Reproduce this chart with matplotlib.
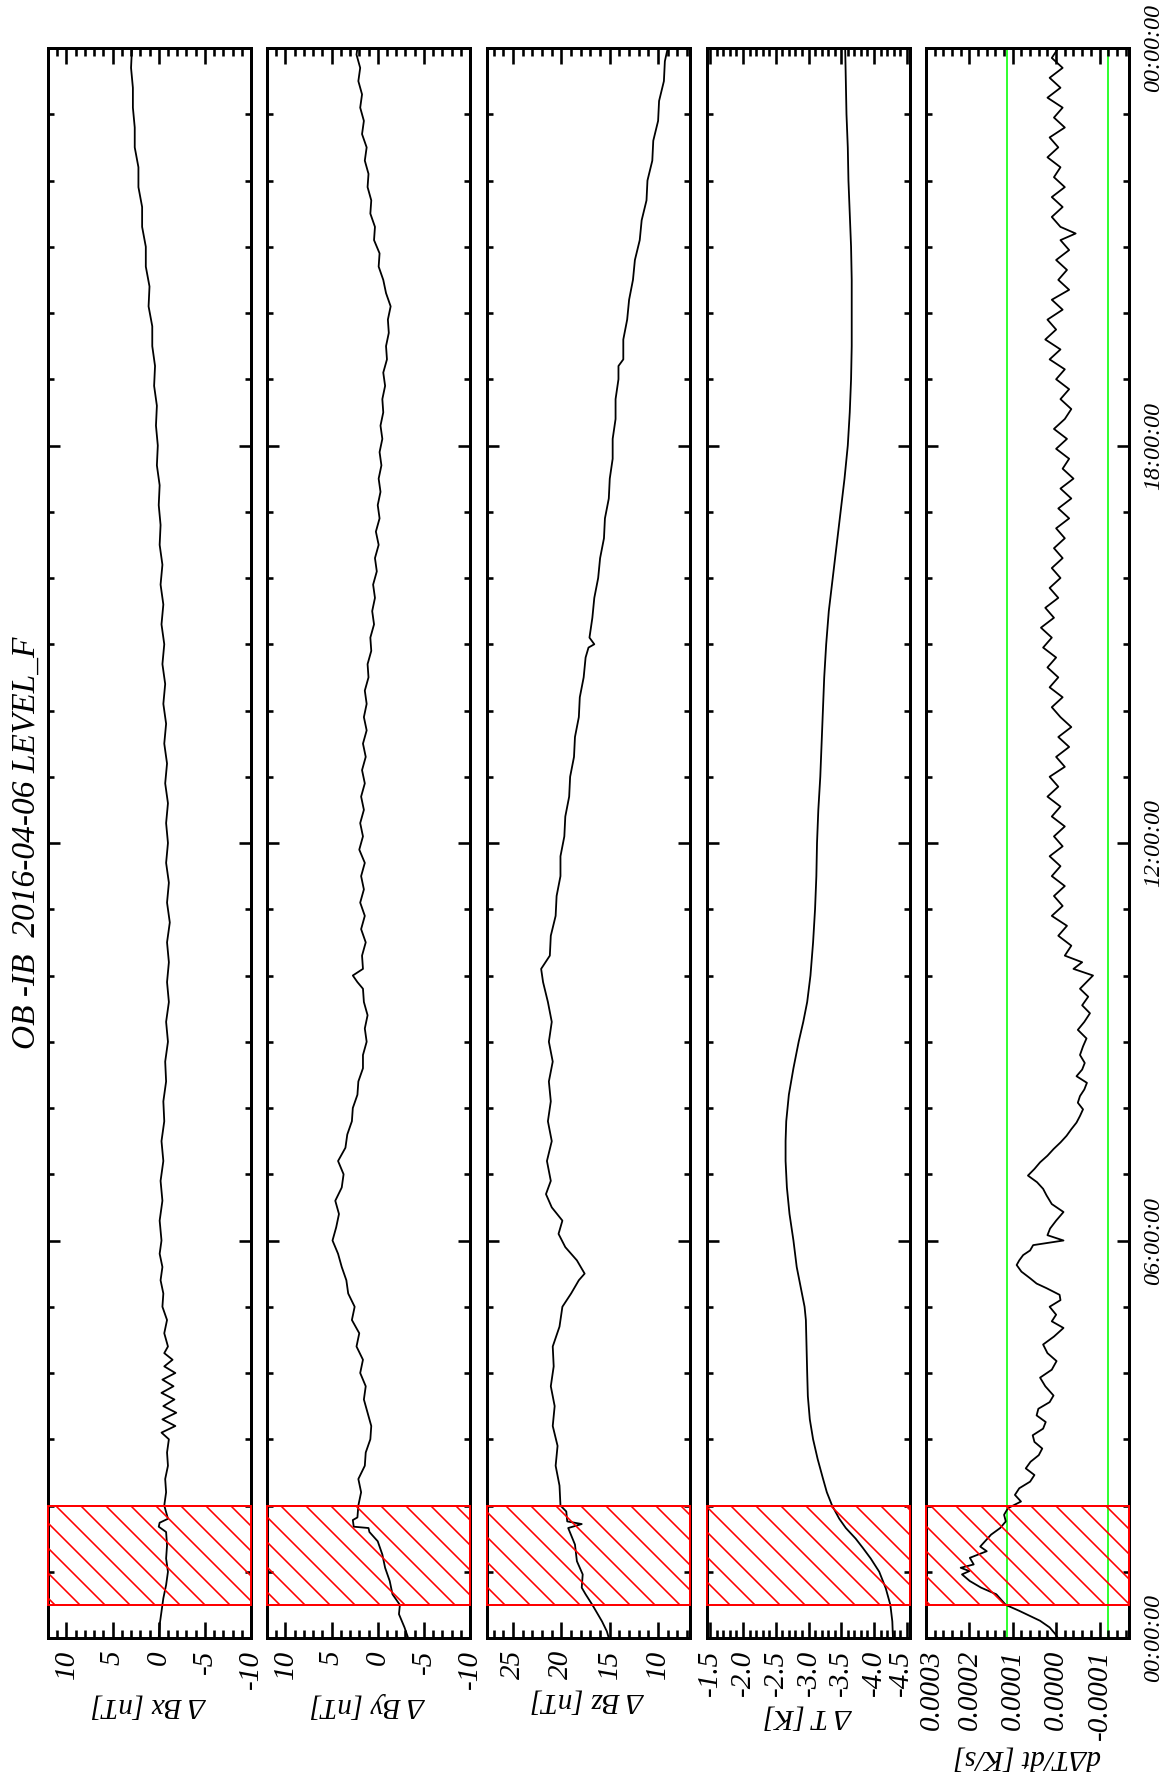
import matplotlib
matplotlib.use("Agg")
import matplotlib.pyplot as plt
import matplotlib.transforms as mtransforms
from matplotlib.ticker import MultipleLocator, FixedLocator, FixedFormatter


# hours since 00:00 UT and the readings for each panel
BX_T = [0.0, 0.2, 0.4, 0.6, 0.8, 1.0, 1.2, 1.4, 1.6, 1.68, 1.74, 1.8, 2.0, 2.2, 2.4,
        2.6, 2.8, 3.0, 3.1, 3.2, 3.3, 3.4, 3.5, 3.6, 3.7, 3.8, 3.9, 4.0, 4.1, 4.2,
        4.3, 4.4, 4.6, 4.8, 5.0, 5.2, 5.4, 5.6, 5.8, 6.0, 6.3, 6.6, 6.9, 7.2, 7.5,
        7.8, 8.1, 8.4, 8.7, 9.0, 9.3, 9.6, 9.9, 10.2, 10.5, 10.8, 11.1, 11.4, 11.7,
        12.0, 12.3, 12.6, 12.9, 13.2, 13.5, 13.8, 14.1, 14.4, 14.7, 15.0, 15.3, 15.6,
        15.9, 16.2, 16.5, 16.8, 17.1, 17.4, 17.7, 18.0, 18.3, 18.6, 18.9, 19.2, 19.5,
        19.8, 20.1, 20.4, 20.7, 21.0, 21.3, 21.6, 21.9, 22.2, 22.5, 22.8, 23.1, 23.4,
        23.7, 24.0]
BX = [0.0, -0.1, -0.3, -0.5, -0.8, -1.0, -0.8, -0.9, -0.8, 0.0, -0.1, -1.0, -0.6,
      -0.8, -0.7, -1.0, -0.9, -1.1, -0.3, -1.8, -0.4, -1.9, -0.5, -1.7, -0.3, -1.6,
      -0.4, -1.8, -0.6, -1.5, -0.6, -1.0, -0.6, -0.9, -0.4, -0.5, -0.2, -0.4, -0.1,
      -0.3, -0.1, -0.4, -0.2, -0.5, -0.3, -0.6, -0.5, -0.8, -0.7, -1.0, -0.8, -1.1,
      -0.9, -1.1, -0.9, -1.2, -0.9, -1.1, -0.8, -1.0, -0.8, -1.0, -0.7, -0.9, -0.6,
      -0.8, -0.5, -0.7, -0.4, -0.6, -0.3, -0.5, -0.2, -0.4, -0.1, -0.2, 0.0, -0.1,
      0.2, 0.1, 0.3, 0.2, 0.5, 0.4, 0.7, 0.7, 1.1, 1.0, 1.4, 1.4, 1.8, 1.8, 2.2, 2.2,
      2.6, 2.6, 2.8, 2.8, 3.0, 2.9]

BY_T = [0.0, 0.16, 0.36, 0.5, 0.66, 0.86, 1.06, 1.26, 1.46, 1.6, 1.66, 1.68, 1.78,
        1.82, 2.0, 2.2, 2.4, 2.6, 2.8, 3.0, 3.2, 3.4, 3.6, 3.8, 4.0, 4.2, 4.4, 4.6,
        4.8, 5.0, 5.2, 5.4, 5.6, 5.8, 6.0, 6.2, 6.4, 6.6, 6.8, 7.0, 7.2, 7.4, 7.6,
        7.8, 8.0, 8.2, 8.4, 8.6, 8.8, 9.0, 9.2, 9.4, 9.6, 9.8, 9.9, 10.0, 10.1, 10.3,
        10.5, 10.7, 10.9, 11.1, 11.3, 11.5, 11.7, 11.9, 12.1, 12.3, 12.5, 12.7, 12.9,
        13.1, 13.3, 13.5, 13.7, 13.9, 14.1, 14.3, 14.5, 14.7, 14.9, 15.1, 15.3, 15.5,
        15.7, 15.9, 16.1, 16.3, 16.5, 16.7, 16.9, 17.1, 17.3, 17.5, 17.7, 17.9, 18.1,
        18.3, 18.5, 18.7, 18.9, 19.1, 19.3, 19.5, 19.7, 19.9, 20.1, 20.3, 20.5, 20.7,
        20.9, 21.1, 21.3, 21.5, 21.7, 21.9, 22.1, 22.3, 22.5, 22.7, 22.9, 23.1, 23.3,
        23.5, 23.7, 23.9, 24.0]
BY = [-3.3, -2.9, -2.3, -2.4, -1.6, -1.3, -0.8, -0.5, 0.0, 0.9, 1.0, 2.6, 2.7, 2.2,
      2.1, 1.8, 2.1, 1.4, 1.3, 0.8, 0.7, 1.1, 1.5, 1.3, 1.9, 1.6, 2.3, 2.0, 2.8, 2.5,
      3.2, 3.4, 3.9, 4.3, 4.9, 4.5, 4.2, 4.6, 3.9, 3.7, 4.3, 3.5, 3.3, 2.8, 2.7, 2.2,
      2.1, 1.6, 1.6, 1.2, 1.4, 1.1, 1.5, 1.6, 2.2, 2.7, 1.6, 1.7, 1.3, 1.8, 1.4, 1.9,
      1.5, 1.8, 1.4, 2.0, 1.6, 1.9, 1.5, 1.8, 1.4, 1.7, 1.3, 1.6, 1.2, 1.5, 1.2, 1.4,
      1.0, 1.1, 0.7, 0.8, 0.4, 0.6, 0.3, 0.5, 0.1, 0.3, -0.1, 0.2, -0.2, 0.0, -0.3,
      -0.1, -0.4, -0.2, -0.5, -0.3, -0.6, -0.5, -0.8, -0.6, -1.0, -0.9, -1.2, -1.1,
      -1.4, -0.9, -0.6, -0.1, -0.2, 0.4, 0.3, 0.8, 0.7, 1.1, 1.0, 1.4, 1.2, 1.7, 1.5,
      1.9, 1.7, 2.1, 1.9, 2.3, 2.2]

BZ_T = [0.0, 0.1, 0.25, 0.4, 0.5, 0.66, 0.76, 0.96, 1.16, 1.41, 1.66, 1.72, 1.76,
        1.91, 2.0, 2.3, 2.6, 2.9, 3.2, 3.5, 3.8, 4.1, 4.4, 4.7, 5.0, 5.2, 5.4, 5.5,
        5.7, 5.9, 6.1, 6.3, 6.5, 6.7, 6.9, 7.2, 7.5, 7.8, 8.1, 8.4, 8.7, 9.0, 9.3,
        9.6, 9.9, 10.1, 10.3, 10.6, 10.9, 11.2, 11.5, 11.8, 12.1, 12.4, 12.7, 13.0,
        13.3, 13.6, 13.9, 14.2, 14.5, 14.8, 14.95, 15.0, 15.1, 15.4, 15.7, 16.0, 16.3,
        16.6, 16.9, 17.2, 17.5, 17.8, 18.1, 18.4, 18.7, 19.0, 19.2, 19.3, 19.6, 19.9,
        20.2, 20.5, 20.8, 21.1, 21.4, 21.7, 22.0, 22.3, 22.6, 22.9, 23.2, 23.5, 23.8,
        24.0]
BZ = [15.1, 15.3, 15.8, 16.4, 16.8, 17.5, 17.9, 17.8, 18.4, 18.6, 19.3, 17.9, 19.4,
      19.5, 20.1, 20.2, 20.6, 20.4, 20.9, 20.7, 21.1, 20.8, 20.9, 20.2, 19.9, 19.0,
      18.2, 17.6, 18.4, 19.6, 20.3, 19.9, 21.0, 21.6, 21.1, 21.5, 21.0, 21.4, 21.1,
      21.3, 20.9, 21.3, 21.0, 21.4, 21.9, 22.1, 21.2, 21.1, 20.6, 20.5, 20.1, 20.1,
      19.7, 19.6, 19.2, 19.1, 18.7, 18.6, 18.2, 18.1, 17.7, 17.5, 17.2, 16.6, 17.1,
      16.8, 16.6, 16.2, 16.0, 15.6, 15.5, 15.1, 15.0, 14.7, 14.7, 14.4, 14.4, 14.1,
      14.1, 13.6, 13.6, 13.2, 13.0, 12.6, 12.4, 11.9, 11.7, 11.2, 11.1, 10.6, 10.5,
      10.0, 9.9, 9.4, 9.3, 9.0]

DT_T = [0.0, 0.25, 0.5, 0.75, 1.0, 1.2, 1.36, 1.5, 1.66, 1.8, 2.0, 2.2, 2.41, 2.7,
        3.0, 3.3, 3.65, 4.0, 4.4, 4.8, 5.0, 5.3, 5.6, 6.0, 6.4, 6.8, 7.2, 7.5, 7.8,
        8.2, 8.6, 9.0, 9.3, 9.6, 10.0, 10.5, 11.0, 11.5, 12.0, 12.5, 13.0, 13.5,
        14.0, 14.5, 15.0, 15.5, 16.0, 16.5, 17.0, 17.5, 18.0, 18.5, 19.0, 19.5,
        20.0, 20.5, 21.0, 21.5, 22.0, 22.5, 23.0, 23.5, 24.0]
DT = [-4.29, -4.28, -4.25, -4.18, -4.08, -3.95, -3.83, -3.72, -3.57, -3.47, -3.36,
      -3.28, -3.22, -3.14, -3.07, -3.02, -2.99, -2.98, -2.97, -2.96, -2.94, -2.88,
      -2.82, -2.77, -2.71, -2.67, -2.65, -2.65, -2.66, -2.70, -2.77, -2.85, -2.92,
      -2.98, -3.03, -3.07, -3.10, -3.12, -3.13, -3.15, -3.18, -3.20, -3.22, -3.24,
      -3.27, -3.31, -3.37, -3.43, -3.49, -3.55, -3.60, -3.63, -3.65, -3.66, -3.66,
      -3.66, -3.65, -3.63, -3.61, -3.60, -3.58, -3.57, -3.56]

# dT/dt in units of 1e-4 K/s
DTDT_T = [0.0, 0.06, 0.16, 0.26, 0.41, 0.5, 0.66, 0.76, 0.86, 0.96, 1.01, 1.06, 1.11,
          1.21, 1.31, 1.38, 1.46, 1.56, 1.66, 1.76, 1.86, 1.96, 2.06, 2.16, 2.26, 2.36,
          2.46, 2.56, 2.66, 2.76, 2.86, 2.96, 3.06, 3.16, 3.26, 3.36, 3.46, 3.56, 3.66,
          3.8, 3.93, 4.05, 4.18, 4.3, 4.43, 4.55, 4.68, 4.78, 4.88, 5.0, 5.1, 5.18,
          5.28, 5.35, 5.43, 5.53, 5.63, 5.7, 5.78, 5.85, 5.93, 6.0, 6.08, 6.18, 6.3,
          6.43, 6.55, 6.68, 6.78, 6.88, 6.98, 7.08, 7.18, 7.28, 7.38, 7.48, 7.58, 7.68,
          7.78, 7.88, 7.98, 8.08, 8.18, 8.28, 8.38, 8.48, 8.58, 8.68, 8.8, 8.93, 9.05,
          9.18, 9.3, 9.43, 9.55, 9.68, 9.8, 9.9, 10.0, 10.1, 10.2, 10.3, 10.45, 10.6,
          10.75, 10.9, 11.05, 11.2, 11.35, 11.5, 11.65, 11.8, 11.95, 12.1, 12.25, 12.4,
          12.55, 12.7, 12.85, 13.0, 13.15, 13.3, 13.45, 13.6, 13.75, 13.9, 14.05, 14.2,
          14.35, 14.5, 14.65, 14.8, 14.95, 15.1, 15.25, 15.4, 15.55, 15.7, 15.85, 16.0,
          16.15, 16.3, 16.45, 16.6, 16.75, 16.9, 17.05, 17.2, 17.35, 17.5, 17.65, 17.8,
          17.95, 18.1, 18.25, 18.4, 18.55, 18.7, 18.85, 19.0, 19.15, 19.3, 19.45, 19.6,
          19.75, 19.9, 20.05, 20.2, 20.35, 20.5, 20.65, 20.8, 20.95, 21.1, 21.2, 21.3,
          21.45, 21.6, 21.75, 21.9, 22.05, 22.2, 22.35, 22.5, 22.65, 22.8, 22.95, 23.1,
          23.25, 23.4, 23.55, 23.7, 23.85, 24.0]
DTDT = [-0.04, 0.02, 0.15, 0.37, 0.85, 1.16, 1.38, 1.73, 1.99, 2.17, 2.0, 2.2, 1.9,
        1.99, 1.6, 1.75, 1.64, 1.5, 1.29, 1.16, 1.2, 1.11, 0.81, 0.95, 0.85, 0.6, 0.5,
        0.7, 0.59, 0.4, 0.32, 0.5, 0.54, 0.3, 0.24, 0.45, 0.41, 0.15, 0.06, 0.25, 0.37,
        0.1, -0.01, 0.2, 0.3, 0.05, -0.17, 0.1, 0.0, 0.15, -0.1, -0.08, 0.22, 0.45, 0.6,
        0.8, 0.91, 0.85, 0.76, 0.6, 0.53, -0.17, 0.2, 0.14, 0.0, -0.17, 0.1, 0.22, 0.3,
        0.44, 0.65, 0.5, 0.37, 0.2, 0.06, -0.1, -0.24, -0.35, -0.47, -0.55, -0.62, -0.5,
        -0.55, -0.65, -0.71, -0.47, -0.6, -0.66, -0.55, -0.62, -0.7, -0.5, -0.65, -0.78,
        -0.6, -0.74, -0.55, -0.7, -0.85, -0.4, -0.6, -0.2, -0.35, -0.05, -0.25, 0.1,
        -0.15, 0.05, -0.2, 0.1, -0.1, 0.15, -0.15, 0.05, -0.2, 0.1, -0.1, 0.2, -0.05,
        0.15, -0.2, 0.0, -0.3, -0.05, -0.35, -0.1, 0.1, -0.15, 0.15, -0.05, 0.2, 0.0,
        0.3, 0.1, 0.35, 0.05, 0.25, -0.05, 0.15, -0.1, 0.1, -0.15, 0.05, -0.2, 0.0, -0.3,
        -0.05, -0.35, -0.1, -0.4, -0.15, -0.3, 0.0, -0.25, 0.05, -0.2, -0.35, -0.1, -0.3,
        0.0, -0.2, 0.15, -0.1, 0.25, 0.0, 0.2, -0.15, 0.1, -0.3, -0.05, -0.25, 0.0, -0.3,
        -0.1, -0.45, -0.1, 0.1, -0.15, 0.1, -0.2, 0.05, -0.1, 0.2, -0.05, 0.15, -0.2,
        0.05, -0.15, 0.2, -0.1, 0.15, -0.15, 0.1, -0.05]
DTDT_LIMITS = [1.14, -1.20]

HATCH_START, HATCH_END = 0.5, 2.0

TIME_TICKS = [0, 6, 12, 18, 24]
TIME_LABELS = ["00:00:00", "06:00:00", "12:00:00", "18:00:00", "00:00:00"]

B_TICKS = [10, 5, 0, -5, -10]
B_LABELS = ["10", "5", "0", "-5", "-10"]
BZ_TICKS = [25, 20, 15, 10]
BZ_LABELS = ["25", "20", "15", "10"]
T_TICKS = [-1.5, -2.0, -2.5, -3.0, -3.5, -4.0, -4.5]
T_LABELS = ["-1.5", "-2.0", "-2.5", "-3.0", "-3.5", "-4.0", "-4.5"]
DTDT_TICKS = [3, 2, 1, 0, -1]
DTDT_LABELS = ["0.0003", "0.0002", "0.0001", "0.0000", "-0.0001"]

TITLE = "OB -IB  2016-04-06 LEVEL_F"

DPI = 150
W, H = 1174, 1782


def pt(pixels):
    return pixels * 72 / DPI


plt.rcParams.update({
    "font.family": "Liberation Serif",
    "font.style": "italic",
    "axes.unicode_minus": False,
    "hatch.color": "red",
    "hatch.linewidth": pt(1.6),
})

# label_y: centre of the rotated axis title, in pixels from the top
panels = [
    dict(t=BX_T, v=BX, lim=(12, -10), ticks=B_TICKS, labels=B_LABELS, minor=1,
         label="Δ Bx [nT]", label_y=1705),
    dict(t=BY_T, v=BY, lim=(12, -10), ticks=B_TICKS, labels=B_LABELS, minor=1,
         label="Δ By [nT]", label_y=1705),
    dict(t=BZ_T, v=BZ, lim=(27.7, 6.7), ticks=BZ_TICKS, labels=BZ_LABELS, minor=1,
         label="Δ Bz [nT]", label_y=1700),
    dict(t=DT_T, v=DT, lim=(-1.45, -4.55), ticks=T_TICKS, labels=T_LABELS, minor=0.1,
         label="Δ T [K]", label_y=1716),
    dict(t=DTDT_T, v=DTDT, lim=(3.0, -1.68), ticks=DTDT_TICKS, labels=DTDT_LABELS,
         minor=0.2, label="dΔT/dt [K/s]", label_y=1757),
]

PANEL_X = [48, 267, 487, 707, 926]
PANEL_W = 203
TOP, BOTTOM = 48, 1638

fig = plt.figure(figsize=(W / DPI, H / DPI), dpi=DPI)
fig.patch.set_facecolor("white")
axes = []

for i, p in enumerate(panels):
    ax = fig.add_axes([PANEL_X[i] / W, 1 - BOTTOM / H, PANEL_W / W, (BOTTOM - TOP) / H])
    axes.append(ax)
    ax.plot(p["v"], p["t"], color="black", lw=pt(1.8), zorder=2)
    ax.set_xlim(*p["lim"])
    ax.set_ylim(0, 24)

    ax.xaxis.set_major_locator(FixedLocator(p["ticks"]))
    ax.xaxis.set_major_formatter(FixedFormatter(p["labels"]))
    ax.xaxis.set_minor_locator(MultipleLocator(p["minor"]))
    ax.yaxis.set_major_locator(FixedLocator(TIME_TICKS))
    ax.yaxis.set_minor_locator(MultipleLocator(1))

    ax.tick_params(which="both", direction="in", top=True, bottom=True,
                   left=True, right=True, width=pt(2.6), color="black")
    ax.tick_params(axis="x", which="major", length=pt(16), labelsize=14,
                   labelrotation=90, pad=pt(12))
    ax.tick_params(axis="x", which="minor", length=pt(8))
    ax.tick_params(axis="y", which="major", length=pt(12), labelleft=False)
    ax.tick_params(axis="y", which="minor", length=pt(6))
    for s in ax.spines.values():
        s.set_linewidth(pt(3))

    ax.set_xlabel(p["label"], rotation=180, fontsize=14, va="center")
    ax.xaxis.set_label_coords(0.5, (BOTTOM - p["label_y"]) / (BOTTOM - TOP))

    ax.axhspan(HATCH_START, HATCH_END, facecolor="none", edgecolor="red",
               hatch="\\\\", linewidth=pt(2), zorder=3, clip_on=False)

    if i == len(panels) - 1:
        for lim in DTDT_LIMITS:
            ax.axvline(lim, color="#00ff00", lw=pt(1.6), zorder=1.5)
        ax.yaxis.set_major_formatter(FixedFormatter(TIME_LABELS))
        ax.tick_params(axis="y", which="major", labelright=True, labelsize=11.5,
                       labelrotation=90, pad=pt(14))
        for lbl in ax.get_yticklabels():
            lbl.set_verticalalignment("center")

fig.text(27 / W, 1 - 843 / H, TITLE, rotation=90, ha="center", va="center",
         fontsize=16)

# nudge the two neighbouring edge labels of the T and dT/dt panels apart
fig.canvas.draw()
for ax, idx, dx in [(axes[3], -1, -6), (axes[4], 0, 6)]:
    lbl = ax.xaxis.get_major_ticks()[idx].label1
    lbl.set_transform(lbl.get_transform() +
                      mtransforms.ScaledTranslation(pt(dx) / 72, 0, fig.dpi_scale_trans))

fig.savefig("out.png", dpi=DPI, facecolor="white")
